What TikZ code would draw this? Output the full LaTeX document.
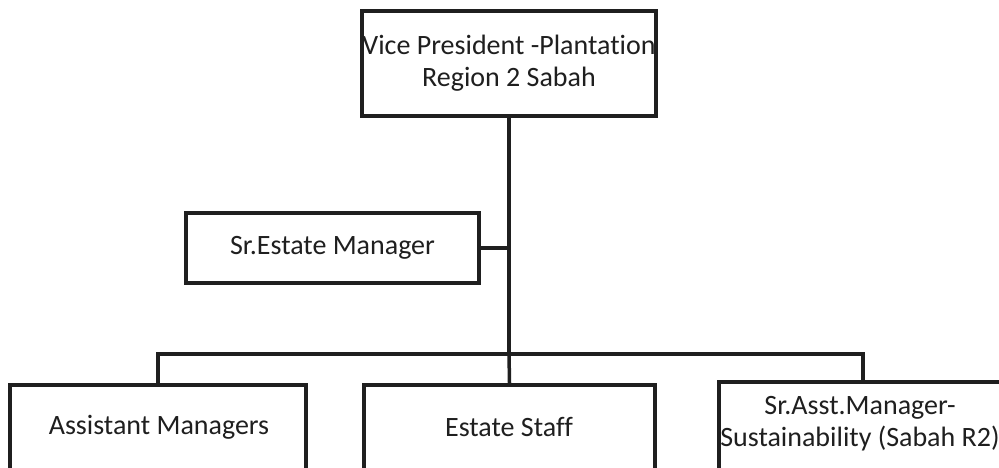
\documentclass[tikz,border=0pt]{standalone}
\usepackage{fontspec}
\setmainfont[Ligatures={NoCommon,NoRare}]{Carlito}
\begin{document}
\begin{tikzpicture}[x=1pt,y=-1pt,
  box/.style={draw=black!88, line width=3.5pt, fill=white, inner sep=0pt},
  lbl/.style={align=center, text=black!88, font=\fontsize{28}{32}\selectfont},
  conn/.style={draw=black!88, line width=3.5pt}]
\useasboundingbox (0,0) rectangle (999,468);
\clip (0,0) rectangle (999,468);
\coordinate (hub) at (509,354);
\coordinate (rt) at (863,380);
\node[box, minimum width=294pt, minimum height=105pt] (vp) at (509,63.5) {};
\node[lbl] (vpt) at (vp.center) {Vice President -Plantation\\Region 2 Sabah};
\node[box, minimum width=293pt, minimum height=70pt] (sem) at (332.5,248) {};
\node[lbl] (semt) at (sem.center) {Sr.Estate Manager};
\node[box, minimum width=296pt, minimum height=110pt, anchor=north] (am) at (158,383) {};
\node[lbl] (amt) at (159,427) {Assistant Managers};
\node[box, minimum width=291pt, minimum height=110pt, anchor=north] (es) at (509.5,383) {};
\node[lbl] (est) at (509,427) {Estate Staff};
\node[box, minimum width=310pt, minimum height=110pt, anchor=north west] (sam) at (717,380) {};
\node[lbl] (samt) at (860,423.5) {Sr.Asst.Manager-\\Sustainability (Sabah R2)};
\draw[conn] (vp.south) -- (hub);
\draw[conn] (sem.east) -- (sem.east -| hub);
\draw[conn] (am.north) |- (hub);
\draw[conn] (hub) -| (rt);
\draw[conn] (hub) -- (es.north);
\end{tikzpicture}
\end{document}
